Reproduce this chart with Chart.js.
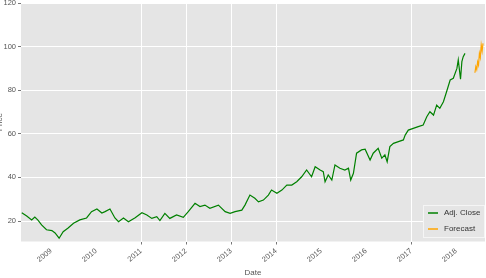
<!DOCTYPE html>
<html>
<head>
<meta charset="utf-8">
<script src="https://cdn.jsdelivr.net/npm/chart.js@4/dist/chart.umd.min.js"></script>
<style>
  body { margin: 0; background: #fff; }
  canvas { display: block; }
</style>
</head>
<body>
<canvas id="chart" width="486" height="278"></canvas>
<script>
// values (x = decimal year)
const closeYears = [2008.35, 2008.46, 2008.57, 2008.64, 2008.71, 2008.79, 2008.90, 2009.02, 2009.09, 2009.18,
    2009.27, 2009.38, 2009.50, 2009.64, 2009.79, 2009.90, 2010.02, 2010.13, 2010.20, 2010.31,
    2010.42, 2010.50, 2010.61, 2010.72, 2010.87, 2011.02, 2011.13, 2011.24, 2011.35, 2011.42,
    2011.53, 2011.64, 2011.79, 2011.94, 2012.05, 2012.20, 2012.31, 2012.42, 2012.53, 2012.72,
    2012.87, 2012.98, 2013.09, 2013.24, 2013.31, 2013.42, 2013.53, 2013.61, 2013.72, 2013.83,
    2013.90, 2014.02, 2014.13, 2014.24, 2014.35, 2014.46, 2014.57, 2014.68, 2014.79, 2014.87,
    2014.98, 2015.05, 2015.09, 2015.16, 2015.24, 2015.31, 2015.42, 2015.53, 2015.61, 2015.66,
    2015.72, 2015.79, 2015.90, 2015.98, 2016.09, 2016.16, 2016.27, 2016.35, 2016.42, 2016.47,
    2016.53, 2016.61, 2016.72, 2016.83, 2016.87, 2016.94, 2017.05, 2017.16, 2017.27, 2017.35,
    2017.42, 2017.50, 2017.57, 2017.64, 2017.72, 2017.79, 2017.87, 2017.94, 2018.02, 2018.05,
    2018.10, 2018.13, 2018.16, 2018.20];
const closeValues = [23.8, 22.3, 20.5, 21.8, 20.4, 18.2, 16.0, 15.6, 14.5, 12.1,
    15.1, 16.8, 19.0, 20.5, 21.4, 24.3, 25.5, 23.7, 24.3, 25.5,
    21.4, 19.7, 21.4, 19.7, 21.5, 23.8, 22.8, 21.2, 22.0, 20.2,
    23.5, 21.2, 22.8, 21.7, 24.3, 28.1, 26.6, 27.3, 25.8, 27.3,
    24.3, 23.5, 24.3, 25.0, 27.3, 31.9, 30.4, 28.8, 29.6, 31.9,
    34.2, 32.7, 34.2, 36.5, 36.5, 38.0, 40.3, 43.4, 40.3, 44.9,
    43.4, 42.6, 38.0, 41.1, 38.8, 45.7, 44.2, 43.4, 44.2, 38.8,
    41.9, 51.1, 52.6, 52.9, 48.0, 51.1, 53.3, 48.8, 50.3, 47.2,
    54.1, 55.6, 56.4, 57.2, 59.4, 61.7, 62.5, 63.3, 64.0, 67.8,
    70.1, 68.6, 73.2, 71.7, 74.7, 79.3, 84.7, 85.5, 90.0, 93.9,
    85.0, 93.1, 95.4, 96.9];
const forecastYears = [2018.42, 2018.44, 2018.46, 2018.48, 2018.50, 2018.52, 2018.54, 2018.56, 2018.58, 2018.60];
const forecastValues = [88.0, 90.8, 89.5, 93.0, 91.5, 96.9, 95.0, 100.7, 98.0, 101.5];

const xTicks = [2009, 2010, 2011, 2012, 2013, 2014, 2015, 2016, 2017, 2018];
const yTicks = [20, 40, 60, 80, 100, 120];
const gridYears = [2011, 2012, 2013, 2014, 2017]; // years that have a grid line

const toPoints = (xs, ys) => xs.map((x, i) => ({ x: x, y: ys[i] }));

Chart.defaults.font.family = '"Liberation Sans Narrow", "Liberation Sans", sans-serif';
Chart.defaults.font.size = 8;
Chart.defaults.color = '#555';

// grey panel behind the plot
const plotBackground = {
    id: 'plotBackground',
    beforeDraw(chart) {
        const a = chart.chartArea;
        const ctx = chart.ctx;
        ctx.save();
        ctx.fillStyle = '#e5e5e5';
        ctx.fillRect(a.left, a.top, a.right - a.left, a.bottom - a.top);
        ctx.restore();
    }
};

// legend box in the lower right corner of the plot
const legendBox = {
    id: 'legendBox',
    afterDraw(chart) {
        const a = chart.chartArea;
        const ctx = chart.ctx;
        const w = 62, h = 33;
        const x = Math.round(a.right - w), y = Math.round(a.bottom - h - 3.5);
        ctx.save();
        ctx.fillStyle = '#e5e5e5';
        ctx.fillRect(x, y, w, h);
        ctx.strokeStyle = '#f5f5f5';
        ctx.lineWidth = 1;
        ctx.strokeRect(x + 0.5, y + 0.5, w - 1, h - 1);
        ctx.font = '8px "Liberation Sans Narrow", "Liberation Sans", sans-serif';
        ctx.textBaseline = 'middle';
        chart.data.datasets.forEach((ds, i) => {
            const ly = y + 8 + i * 16;
            ctx.strokeStyle = ds.borderColor;
            ctx.lineWidth = 1.5;
            ctx.beginPath();
            ctx.moveTo(x + 5, ly);
            ctx.lineTo(x + 15, ly);
            ctx.stroke();
            ctx.fillStyle = '#333';
            ctx.fillText(ds.label, x + 21, ly);
        });
        ctx.restore();
    }
};

new Chart(document.getElementById('chart'), {
    type: 'line',
    data: {
        datasets: [{
            label: 'Adj. Close',
            data: toPoints(closeYears, closeValues),
            borderColor: '#008000',
            borderWidth: 1.2,
            pointRadius: 0
        }, {
            label: 'Forecast',
            data: toPoints(forecastYears, forecastValues),
            borderColor: '#ffa500',
            borderWidth: 1.2,
            pointRadius: 0
        }]
    },
    options: {
        responsive: false,
        animation: false,
        layout: { padding: { top: 3, right: 1, left: 0, bottom: 0 } },
        plugins: {
            legend: { display: false },
            tooltip: { enabled: false }
        },
        scales: {
            x: {
                type: 'linear',
                min: 2008.333,
                max: 2018.644,
                afterBuildTicks: scale => { scale.ticks = xTicks.map(v => ({ value: v })); },
                afterFit: scale => {
                    scale.height = 36.5;
                    scale.paddingLeft = 0;
                    scale.paddingRight = 0;
                },
                ticks: {
                    minRotation: 40,
                    maxRotation: 40,
                    padding: 2,
                    font: { size: 7.5 },
                    callback: v => String(v)
                },
                grid: {
                    color: c => gridYears.includes(c.tick && c.tick.value) ? '#fff' : 'rgba(0,0,0,0)',
                    tickColor: c => gridYears.includes(c.tick && c.tick.value) ? '#777' : 'rgba(0,0,0,0)',
                    tickLength: 3
                },
                border: { display: false },
                title: {
                    display: true,
                    text: 'Date',
                    font: { size: 8 },
                    padding: { top: 0, bottom: 0 }
                }
            },
            y: {
                min: 10.6,
                max: 120,
                afterBuildTicks: scale => { scale.ticks = yTicks.map(v => ({ value: v })); },
                afterFit: scale => {
                    scale.width = 21;
                    scale.paddingTop = 0;
                    scale.paddingBottom = 0;
                },
                ticks: {
                    padding: 2,
                    font: { size: 7.5 }
                },
                grid: {
                    color: '#fff',
                    tickColor: '#777',
                    tickLength: 3
                },
                border: { display: false },
                title: {
                    display: true,
                    text: 'Price',
                    font: { size: 8 },
                    padding: { top: -5, bottom: 0 }
                }
            }
        }
    },
    plugins: [plotBackground, legendBox]
});
</script>
</body>
</html>
